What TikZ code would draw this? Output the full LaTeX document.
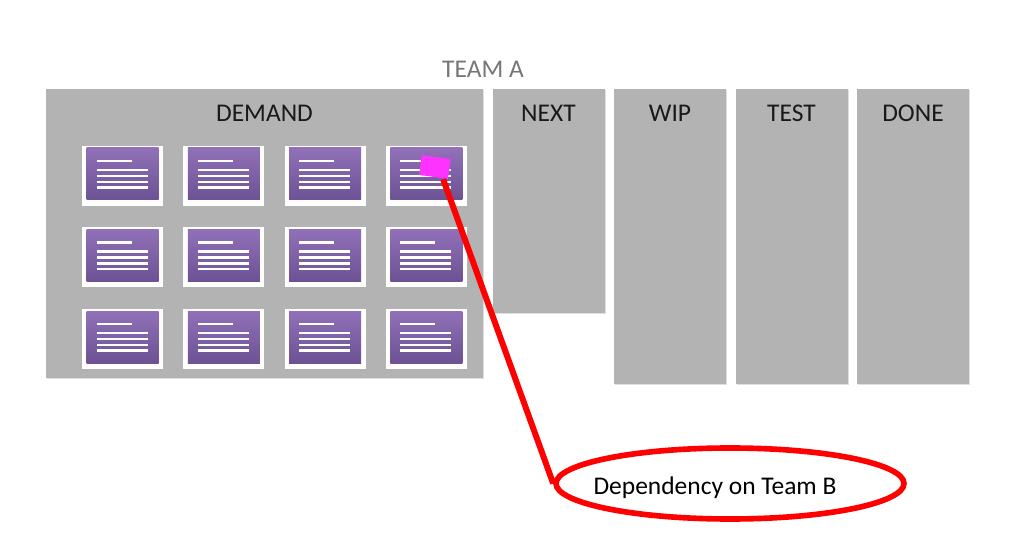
\documentclass[tikz,border=0pt]{standalone}
\usepackage{fontspec}
\setmainfont{Carlito}
\usetikzlibrary{positioning, shapes.geometric, calc, shadows}

\definecolor{lanegray}{RGB}{179,179,179}
\definecolor{cardtop}{RGB}{145,112,184}
\definecolor{cardbottom}{RGB}{108,82,148}
\definecolor{stickypink}{RGB}{255,51,255}
\definecolor{titlegray}{RGB}{118,118,118}

\tikzstyle{lane} = [rectangle, fill=lanegray, anchor=north west, minimum width=2.24cm, outer sep=0pt, drop shadow={shadow xshift=0.6pt, shadow yshift=-0.6pt, opacity=0.25}]
\tikzstyle{title} = [font=\fontsize{14.5}{16}\selectfont, text=black!90]
\tikzstyle{frame} = [rectangle, fill=white, minimum width=1.62cm, minimum height=1.2cm]
\tikzstyle{card} = [rectangle, top color=cardtop, bottom color=cardbottom, minimum width=1.44cm, minimum height=1.04cm]
\tikzstyle{textline} = [draw=white, line width=1.2pt]
\tikzstyle{sticky} = [rectangle, fill=stickypink, minimum width=0.58cm, minimum height=0.4cm, rotate=-8]
\tikzstyle{arrow} = [draw=red, line width=3.4pt]
\tikzstyle{callout} = [ellipse, draw=red, line width=3.2pt, fill=white, minimum width=6.96cm, minimum height=1.42cm]

\begin{document}
\begin{tikzpicture}
    \useasboundingbox (0,0) rectangle (20.48,-11);

    % lanes
    \node[lane, minimum width=8.74cm, minimum height=5.78cm] (demand) at (0.92,-1.78) {};
    \node[lane, minimum height=4.48cm] (next) at ([xshift=0.19cm]demand.north east) {};
    \node[lane, minimum height=5.9cm] (wip) at ([xshift=0.19cm]next.north east) {};
    \node[lane, minimum height=5.9cm] (test) at ([xshift=0.19cm]wip.north east) {};
    \node[lane, minimum height=5.9cm] (done) at ([xshift=0.19cm]test.north east) {};

    % titles
    \node[title, text=titlegray] (team) at ([yshift=0.4cm]demand.north east) {TEAM A};
    \node[title] (demandT) at ([yshift=-0.48cm]demand.north) {DEMAND};
    \node[title] (nextT) at ([yshift=-0.48cm]next.north) {NEXT};
    \node[title] (wipT) at ([yshift=-0.48cm]wip.north) {WIP};
    \node[title] (testT) at ([yshift=-0.48cm]test.north) {TEST};
    \node[title] (doneT) at ([yshift=-0.48cm]done.north) {DONE};

    % cards
    \foreach \r in {0,1,2}
        \foreach \c in {0,1,2,3} {
            \node[frame] (frame-\r-\c) at ($(demand.north west)+(1.53+2.026*\c, -1.74-1.63*\r)$) {};
            \node[card] (card-\r-\c) at ([yshift=0.04cm]frame-\r-\c) {};
            \draw[textline] ([shift={(-0.52,0.26)}]card-\r-\c.center) -- ++(0.7,0);
            \foreach \y in {0.08,-0.04,-0.16,-0.27}
                \draw[textline] ([shift={(-0.52,\y)}]card-\r-\c.center) -- ++(1.02,0);
        }

    \node[sticky] (sticky) at ([shift={(0.17,0.14)}]card-0-3.center) {};

    % dependency
    \node[callout] (dep) at (14.6,-9.67) {};
    \node[title, text=black] (depT) at ([xshift=-0.3cm, yshift=-0.08cm]dep.center) {Dependency on Team B};
    \draw[arrow] ([xshift=-0.1cm]sticky.south east) -- (dep.west);
\end{tikzpicture}
\end{document}
